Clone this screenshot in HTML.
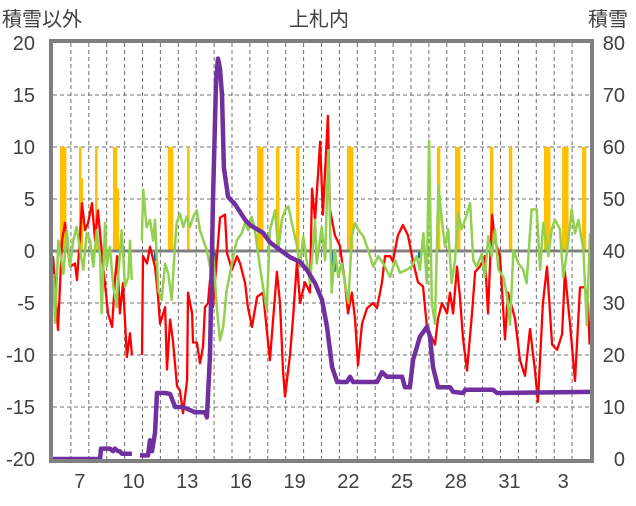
<!DOCTYPE html>
<html><head><meta charset="utf-8"><style>
html,body{margin:0;padding:0;background:#fff;}
svg text{font-family:"Liberation Sans","Noto Sans CJK JP",sans-serif;fill:#404040;}
</style></head><body>
<svg id="chart" width="636" height="501" viewBox="0 0 636 501" xmlns="http://www.w3.org/2000/svg">
<text x="319" y="26" font-size="20" text-anchor="middle">上札内</text>
<text x="2" y="26" font-size="20">積雪以外</text>
<text x="588" y="26" font-size="20">積雪</text>
<g id="grid"></g><g id="bars"></g><g id="lines"></g><g id="axes"></g>
</svg>
<script>
const dayLabels = ["7","10","13","16","19","22","25","28","31","3"];
const dayLabelIdx = [1,4,7,10,13,16,19,22,25,28];
const leftTicks = [20,15,10,5,0,-5,-10,-15,-20];
const rightTicks = [80,70,60,50,40,30,20,10,0];
const nDays = 30;
const orangeStart = [0.39,1.45,1.56,2.35,3.35,3.58,6.42,7.49,11.4,12.46,13.58,16.42,21.45,22.46,24.41,25.47,27.43,28.44,29.55];
const orangeWidth = [0.36,0.14,0.12,0.14,0.24,0.12,0.3,0.14,0.36,0.19,0.19,0.36,0.19,0.3,0.19,0.19,0.36,0.36,0.24];
const orangeVals = [10,10,7,10,10,6,10,10,10,10,10,10,10,10,10,10,10,10,10];
const blueStart = [2.74,5.64,8.77,8.94,15.53,15.7,20.39];
const blueWidth = [0.12,0.15,0.34,0.1,0.12,0.1,0.2];
const blueVals = [-1.5,-1,-2.5,-4.5,-1.5,-2,-0.7];
const redT = [0,0.28,0.5,0.67,0.95,1.23,1.34,1.51,1.62,1.79,1.96,2.18,2.35,2.51,2.79,3.07,3.3,3.46,3.58,3.74,3.91,4.13,4.3,4.41,4.6,4.97,5.03,5.25,5.42,5.7,5.87,5.98,6.26,6.37,6.54,6.7,6.93,7.09,7.26,7.49,7.54,7.77,7.82,8.04,8.21,8.38,8.49,8.66,8.77,8.94,9.33,9.61,9.72,10,10.28,10.45,10.73,10.89,11.12,11.4,11.73,12.12,12.51,12.68,12.85,12.96,13.24,13.41,13.63,13.8,14.08,14.36,14.47,14.64,14.92,15.08,15.36,15.47,15.75,16.03,16.31,16.48,16.7,16.87,17.04,17.26,17.54,17.88,18.1,18.38,18.55,18.83,18.99,19.27,19.55,19.83,20.11,20.39,20.67,20.89,21.34,21.51,21.73,22.01,22.18,22.35,22.57,22.74,22.91,23.13,23.41,23.58,23.85,24.13,24.3,24.53,24.69,24.97,25.25,25.42,25.81,26.09,26.37,26.65,26.93,27.09,27.37,27.6,27.88,28.16,28.44,28.6,28.88,29.16,29.44,29.72,29.89,29.98];
const redVals = [-0.5,-7.6,1,2.7,-1.5,-1.2,-2.8,1.4,4.6,2,2.7,4.6,1,3.9,-1.2,-6,-7.3,-2.8,-0.5,-6,-3.1,-10.2,-7.9,-10,null,-10,-0.5,-1.2,0.4,-1.5,-4.4,-7,-5.4,-11.4,-6.6,-8.6,-13,-13.4,-15.6,-12.4,-4,-6,-8.8,-8.8,-10.8,-9.2,-5.4,-5,-2.8,-5.4,3.2,3.5,-0.2,-1.8,-0.5,-1.2,-3.1,-5.4,-7.3,-4.4,-4,-10.5,-2,-5,-11.5,-14,-10,-6.5,-1,-5,-3,-4,6,3,10.5,3.5,13,4,1.5,0.5,-3,-6,-4,-6.5,-11,-7,-5.5,-5,-5.5,-3,-0.5,-0.5,-1,1.5,2.5,1.5,-1,-3,-3.4,-7.3,-9,-6.5,-5,-6,-4,-6,-1.5,-4.5,-8.5,-11.5,-6,-2,-1.5,-0.5,-6,3.5,1,-0.5,-8.5,-4,-6.5,-10.5,-12,-7.5,-11.5,-14.5,-5,-1.5,-9,-9.5,-8,-2,-7,-12.5,-3.5,-3.5,-5,-9];
const greenT = [0.02,0.11,0.3,0.58,0.77,0.95,1.13,1.32,1.51,1.69,1.88,2.07,2.25,2.44,2.63,2.72,2.91,3.0,3.18,3.37,3.56,3.65,3.84,4.02,4.21,4.3,4.4,4.6,4.96,5.04,5.23,5.42,5.6,5.7,5.88,6.07,6.26,6.44,6.63,6.82,6.91,7.09,7.28,7.47,7.65,7.84,8.03,8.21,8.4,8.59,8.77,8.96,9.15,9.33,9.51,9.7,9.89,10.07,10.26,10.54,10.73,10.91,11.1,11.28,11.56,11.94,12.12,12.4,12.59,12.78,12.96,13.15,13.34,13.61,13.8,13.98,14.17,14.36,14.64,14.73,15.01,15.2,15.38,15.57,15.75,15.94,16.13,16.31,16.5,16.69,16.87,17.06,17.34,17.61,17.89,18.17,18.45,18.83,19.11,19.39,19.76,20.04,20.32,20.5,20.69,20.88,21.01,21.16,21.34,21.53,21.72,21.9,22.08,22.27,22.46,22.64,22.83,23.02,23.3,23.48,23.67,23.95,24.13,24.32,24.51,24.69,24.88,25.16,25.35,25.53,25.72,26.0,26.27,26.46,26.74,27.02,27.21,27.39,27.67,27.86,28.04,28.32,28.51,28.7,28.98,29.16,29.35,29.63,29.82,30];
const greenVals = [-2.2,-6.9,1,-2.2,2,-1.5,1,2.3,0.1,-1.8,1.7,1,-1.5,2,-0.5,-6,2.7,-1.5,0.4,-3.4,-5.4,-2.2,2,-3.4,-2.5,1,-2.8,null,1,5.9,2.3,3,1,3,-3.8,-4.7,-1.2,-2.2,-4.7,0.7,2.7,3.6,2.3,3.3,2.3,3.3,3.9,2,1,0.1,-1.5,-0.5,-5.4,-8.6,-7.3,-3.8,-2.2,-0.5,1,1.7,2.7,2,3.3,2,-1.5,-5.7,2,3.9,0.1,3,3.9,4.3,2.7,0.7,-1.5,1.4,-0.9,-3.1,3,-1.2,2.3,-0.9,9.7,-4,0.1,-2.5,-1.2,-3.1,-5,1.4,2.7,2,1.4,0.1,-1.5,-0.5,-1.2,-2.5,-0.9,-2.1,-1.8,-1.5,-0.5,-1.8,1.7,-3.1,10.6,-5,-7,6.3,3,0.4,2.1,-3.1,-0.9,3.6,2.1,3,4.6,-0.9,-1.5,-0.3,-2.5,1.4,-0.5,2.1,-1.8,-2.5,-4.2,-7.1,0.1,-1.2,-1.8,-3.1,4,4,-1.8,2.7,-0.5,2.1,3,2.1,-2.5,-0.3,4,1.7,3,0.1,-7.1,1.7];
const snowT = [0,2.63,2.68,3.18,3.35,3.46,3.63,3.74,3.85,4.41,4.6,4.86,5.31,5.42,5.53,5.7,5.81,6.26,6.54,6.82,7.26,7.93,8.49,8.6,8.77,8.94,9.11,9.22,9.33,9.44,9.55,9.78,10.17,10.73,11.01,11.73,12.12,12.68,13.24,13.8,14.19,14.64,15.03,15.31,15.59,15.87,16.42,16.59,16.76,18.1,18.38,18.66,19.5,19.66,19.94,20.11,20.5,20.89,21.06,21.23,21.51,22.18,22.35,22.91,23.02,24.58,24.8,30];
const snowVals = [0,0,2,2,1.5,2,1.5,1.5,1,1,null,0.7,0.7,3.6,1.5,5,12.7,12.7,12.5,10,10,9,9,8,20,50,73,77,75,70,56,50.4,49,46,45,43.5,41.7,40.2,38.8,37.9,36.3,33.8,30.6,25.4,17.7,14.8,14.8,15.8,14.8,14.8,16.7,15.8,15.8,13.8,13.8,19,23.5,25.4,23.5,17.7,13.8,13.8,12.9,12.7,13.3,13.3,12.7,12.9];

const L=53,R=590,T=43,B=459;
const xDay = d => L + d*(R-L)/nDays;
const yL = v => B - (v+20)*(B-T)/40;
const yR = v => B - v*(B-T)/80;
const NS="http://www.w3.org/2000/svg";
function mk(tag, parent, attrs){const e=document.createElementNS(NS,tag);for(const k in attrs)e.setAttribute(k,attrs[k]);document.getElementById(parent).appendChild(e);return e;}

for(let i=1;i<nDays;i++){
  const g=mk('line','grid',{x1:xDay(i),x2:xDay(i),y1:T,y2:B,stroke:'#707070','stroke-width':1,'stroke-dasharray':'4,3'});
  
  
}
leftTicks.forEach(v=>{
  if(v!==0&&v!==20&&v!==-20){
    const g=mk('line','grid',{x1:L,x2:R,y1:yL(v),y2:yL(v),stroke:'#707070','stroke-width':1,'stroke-dasharray':'4,3'});
    
    
  }
  const t=mk('text','axes',{x:35,y:yL(v)+7,'font-size':20,'text-anchor':'end'});
  t.textContent=v;
  
  
});
rightTicks.forEach(v=>{
  const t=mk('text','axes',{x:625,y:yR(v)+7,'font-size':20,'text-anchor':'end'});
  t.textContent=v;
  
  
});
dayLabels.forEach((s,i)=>{
  const t=mk('text','axes',{x:xDay(dayLabelIdx[i]+0.5),y:488,'font-size':20,'text-anchor':'middle'});
  t.textContent=s;
  
  
});
orangeStart.forEach((s,i)=>{
  const r=mk('rect','bars',{x:xDay(s),width:xDay(s+orangeWidth[i])-xDay(s),y:yL(orangeVals[i]),height:yL(0)-yL(orangeVals[i]),fill:'#ffc000'});
  
  
});
blueStart.forEach((s,i)=>{
  const r=mk('rect','bars',{x:xDay(s),width:xDay(s+blueWidth[i])-xDay(s),y:yL(0),height:yL(blueVals[i])-yL(0),fill:'#0070c0'});
  
  
});
const zl=mk('line','bars',{x1:L,x2:R,y1:yL(0),y2:yL(0),stroke:'#808080','stroke-width':3});


function pathFor(ts,vs,yf){let d='',pen=false;ts.forEach((t,i)=>{const v=vs[i];if(v===null){pen=false;return;}d+=(pen?'L':'M')+xDay(t).toFixed(1)+','+yf(v).toFixed(1);pen=true;});return d;}
const red=mk('path','lines',{d:pathFor(redT,redVals,yL),fill:'none',stroke:'#ff0000','stroke-width':2.3,'stroke-linejoin':'round'});


const green=mk('path','lines',{d:pathFor(greenT,greenVals,yL),fill:'none',stroke:'#92d050','stroke-width':2.5,'stroke-linejoin':'round'});


const snow=mk('path','lines',{d:pathFor(snowT,snowVals,yR),fill:'none',stroke:'#7030a0','stroke-width':4.5,'stroke-linejoin':'round'});


const fr=mk('rect','axes',{x:L-2,y:T-2,width:R-L+4,height:B-T+4,fill:'none',stroke:'#808080','stroke-width':4});


</script>
</body></html>
